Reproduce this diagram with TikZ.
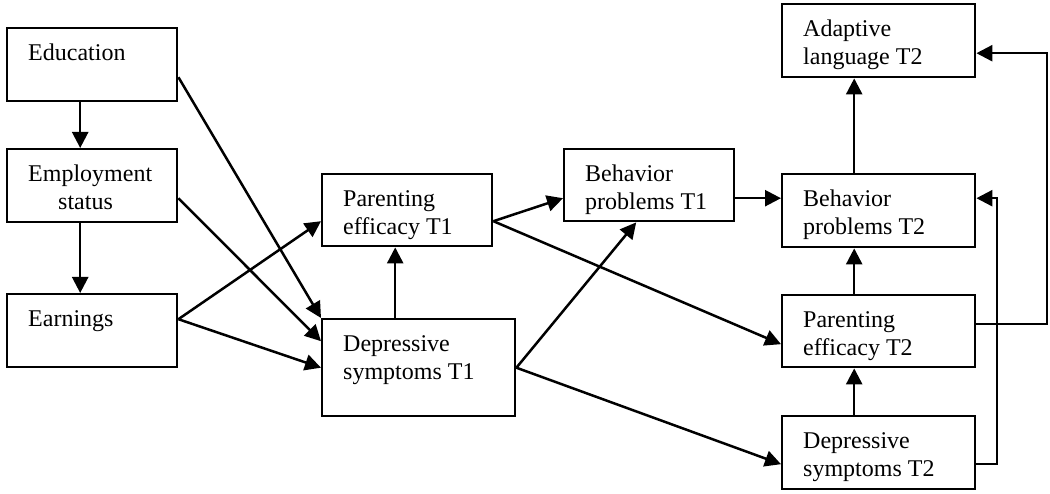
\documentclass[tikz,border=0pt]{standalone}
\usepackage{fontspec}
\setmainfont{Liberation Serif}
\usetikzlibrary{arrows.meta,calc}
\tikzset{
  box/.style={draw, line width=2.4pt, rectangle, inner sep=0pt, anchor=north west},
  txt/.style={align=left, inner sep=0pt, anchor=north west, font=\fontsize{24}{28}\selectfont},
  arr/.style={-{Triangle[length=16pt,width=16pt]}, line width=2.5pt},
}
\newcommand{\mybox}[6]{%
  \node[box, minimum width=#4pt, minimum height=#5pt] (#1) at (#2,#3) {};
  \node[txt] (#1-t) at ([xshift=22pt,yshift=-13.4pt]#1.north west) {\strut #6};
}
\begin{document}
\begin{tikzpicture}[x=1pt,y=-1pt]
\useasboundingbox (0,0) rectangle (1050,494);
\mybox{edu}{6}{27}{170}{73}{Education}
\mybox{emp}{6}{148}{170}{73}{Employment\\\hspace*{30pt}status}
\mybox{earn}{6}{293}{170}{73}{Earnings}
\mybox{pe1}{321}{173}{170}{72}{Parenting\\efficacy T1}
\mybox{ds1}{321}{318}{193}{97}{Depressive\\symptoms T1}
\mybox{bp1}{563}{148}{170}{72}{Behavior\\problems T1}
\mybox{al2}{781}{3}{193}{73}{Adaptive\\language T2}
\mybox{bp2}{781}{173}{193}{73}{Behavior\\problems T2}
\mybox{pe2}{781}{294}{193}{72}{Parenting\\efficacy T2}
\mybox{ds2}{781}{415}{193}{73}{Depressive\\symptoms T2}

% left column
\draw[arr] ([xshift=-12pt]edu.south) -- ([xshift=-12pt]emp.north);
\draw[arr] ([xshift=-12pt]emp.south) -- ([xshift=-12pt]earn.north);
\draw[arr] ([yshift=-12.5pt]edu.east) -- (ds1.north west);
\draw[arr] ([yshift=-12.5pt]emp.east) -- ([yshift=26.5pt]ds1.west);
\draw[arr] ([yshift=11.5pt]earn.east) -- ([yshift=-11pt]pe1.west);
\draw[arr] ([yshift=11.5pt]earn.east) -- (ds1.west);
% middle
\draw[arr] ([xshift=-23.5pt]ds1.north) -- ([xshift=-12pt]pe1.south);
\draw[arr] ([yshift=-11pt]pe1.east) -- ([yshift=-13pt]bp1.west);
\draw[arr] ([yshift=-11pt]pe1.east) -- ([yshift=-13pt]pe2.west);
\draw[arr] (ds1.east) -- ([xshift=-13pt]bp1.south);
\draw[arr] (ds1.east) -- ([yshift=-11.5pt]ds2.west);
\coordinate (b1o) at ([yshift=-13pt]bp1.east);
\draw[arr] (b1o) -- (b1o -| bp2.west);
% right column
\draw[arr] ([xshift=-24.5pt]bp2.north) -- ([xshift=-24.5pt]al2.south);
\draw[arr] ([xshift=-24.5pt]pe2.north) -- ([xshift=-24.5pt]bp2.south);
\draw[arr] ([xshift=-24.5pt]ds2.north) -- ([xshift=-24.5pt]pe2.south);
\coordinate (r1) at (1047,0);
\coordinate (r2) at (997,0);
\coordinate (p2o) at ([yshift=7pt]pe2.east);
\coordinate (a2i) at ([yshift=-12.5pt]al2.east);
\coordinate (d2o) at ([yshift=-11.5pt]ds2.east);
\coordinate (b2i) at ([yshift=12.5pt]bp2.east);
\draw[arr] (p2o) -- (p2o -| r1) -- (r1 |- a2i) -- (a2i);
\draw[arr] (d2o) -- (d2o -| r2) -- (r2 |- b2i) -- (b2i);
\end{tikzpicture}
\end{document}
